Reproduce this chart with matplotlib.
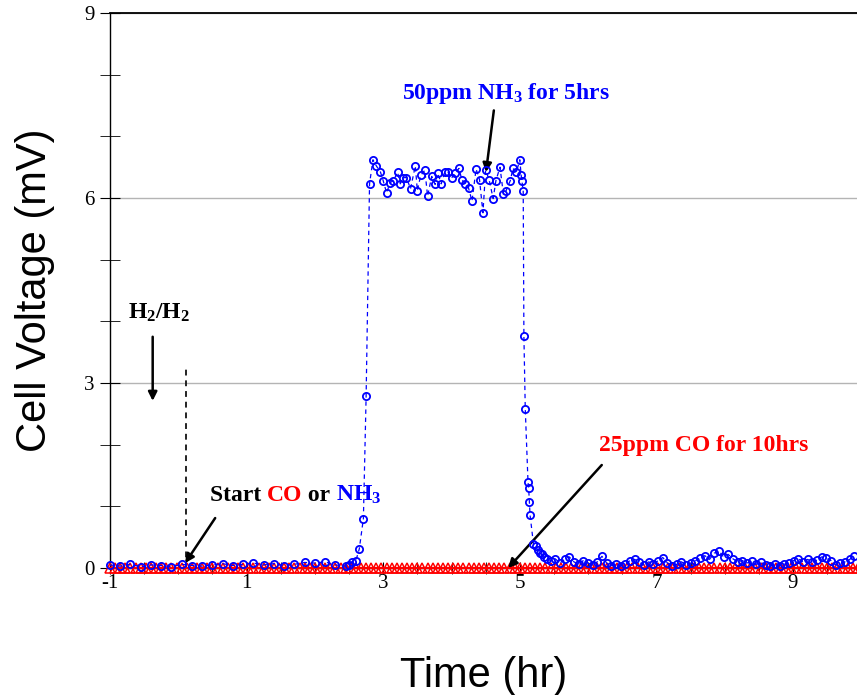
#!/usr/bin/env python3
'''
Cell voltage under 25ppm CO and 50ppm NH3 exposure
'''
import numpy as np
import matplotlib
matplotlib.use('Agg')
from matplotlib import pyplot as plt
from matplotlib.offsetbox import TextArea, HPacker, AnnotationBbox


plt.rcParams['axes.unicode_minus'] = False
plt.rcParams['mathtext.fontset'] = 'custom'
plt.rcParams['mathtext.rm'] = 'Liberation Serif:bold'
plt.rcParams['mathtext.bf'] = 'Liberation Serif:bold'
plt.rcParams['mathtext.it'] = 'Liberation Serif:bold'

# --- NH3 run (blue circles) ---
# baseline before NH3 reaches the cell, -1 .. 2.45 hr
nh3_pre_start, nh3_pre_end = -1.0, 2.45
nh3_pre_voltage = [0.05, 0.03, 0.06, 0.02, 0.05, 0.04, 0.02, 0.06, 0.04, 0.03,
                   0.05, 0.07, 0.04, 0.06, 0.08, 0.05, 0.07, 0.04, 0.06, 0.09,
                   0.08, 0.10, 0.05, 0.03]

# rise, plateau and drop
nh3_time = [2.50, 2.54, 2.60, 2.65, 2.71, 2.75,
            2.80, 2.85, 2.90, 2.96, 3.00, 3.05, 3.10, 3.15, 3.21, 3.25,
            3.29, 3.34, 3.40, 3.47, 3.50, 3.55, 3.61, 3.65, 3.71, 3.76,
            3.80, 3.85, 3.90, 3.95, 4.00, 4.05, 4.11, 4.15, 4.20, 4.25,
            4.30, 4.36, 4.41, 4.46, 4.50, 4.55, 4.61, 4.65, 4.71, 4.76,
            4.80, 4.86, 4.90, 4.95, 5.00, 5.02, 5.03, 5.05,
            5.06, 5.08, 5.12, 5.13, 5.14, 5.15, 5.20, 5.23, 5.26, 5.29,
            5.32, 5.36, 5.40]
nh3_voltage = [0.05, 0.10, 0.12, 0.31, 0.80, 2.79,
               6.23, 6.62, 6.52, 6.42, 6.28, 6.08, 6.25, 6.28, 6.42, 6.23,
               6.33, 6.33, 6.15, 6.52, 6.12, 6.37, 6.45, 6.03, 6.35, 6.22,
               6.40, 6.23, 6.42, 6.42, 6.32, 6.41, 6.48, 6.30, 6.23, 6.16,
               5.95, 6.47, 6.30, 5.76, 6.45, 6.30, 5.99, 6.28, 6.50, 6.06,
               6.12, 6.28, 6.48, 6.42, 6.62, 6.37, 6.28, 6.11,
               3.77, 2.58, 1.40, 1.29, 1.07, 0.86, 0.39, 0.35, 0.30, 0.25,
               0.22, 0.18, 0.15]

# baseline after NH3 is switched off, 5.45 .. 9.9 hr
nh3_post_start, nh3_post_end = 5.45, 9.90
nh3_post_voltage = [0.12, 0.15, 0.08, 0.14, 0.18, 0.10, 0.06, 0.12, 0.08,
                    0.05, 0.10, 0.19, 0.08, 0.04, 0.06, 0.03,
                    0.07, 0.12, 0.14, 0.09, 0.05, 0.10, 0.06,
                    0.12, 0.17, 0.08, 0.04, 0.06, 0.10, 0.05,
                    0.08, 0.12, 0.16, 0.20, 0.14, 0.24, 0.28, 0.18,
                    0.22, 0.15, 0.10, 0.12, 0.08, 0.11, 0.06,
                    0.09, 0.05, 0.03, 0.07, 0.04, 0.06, 0.08,
                    0.12, 0.15, 0.10, 0.14, 0.09, 0.13, 0.18,
                    0.16, 0.12, 0.05, 0.08, 0.10, 0.14, 0.20]

# --- CO run (red triangles): flat at zero the whole time ---
co_sample_step = 0.075  # hr
co_time = np.arange(-1.0, 10.0, co_sample_step)
co_voltage = np.zeros_like(co_time)

# vertical marker where the contaminant is switched on
start_time = 0.11
start_marker_top = 3.24

x_ticks = [-1, 1, 3, 5, 7, 9]
y_ticks = [0, 3, 6, 9]


# ---- assemble the NH3 series ----
t_nh3 = np.concatenate([
    np.linspace(nh3_pre_start, nh3_pre_end, len(nh3_pre_voltage)),
    nh3_time,
    np.linspace(nh3_post_start, nh3_post_end, len(nh3_post_voltage)),
])
v_nh3 = np.concatenate([nh3_pre_voltage, nh3_voltage, nh3_post_voltage])

fig = plt.figure(figsize=(8.57, 6.95), dpi=100)
ax = fig.add_axes([110 / 857, 1 - 568 / 695, 747 / 857, 555 / 695])

ax.set_xlim(-1, -1 + 747 / 68.3)
ax.set_ylim(0, 9)

ax.yaxis.grid(True, color='#b4b4b4', lw=1.0)
ax.set_axisbelow(True)

ax.plot(t_nh3, v_nh3, ls=(0, (3.5, 3)), color='blue', lw=0.9,
        marker='o', ms=5.2, mfc='none', mec='blue', mew=1.3, zorder=4,
        clip_on=False)
ax.plot(co_time, co_voltage, color='red', lw=1.6,
        marker='^', ms=7, mfc='none', mec='red', mew=1.1,
        clip_on=False, zorder=3)

ax.plot([start_time, start_time], [0, start_marker_top], color='#222222',
        ls=(0, (3, 2.5)), lw=1.4, zorder=2)

ax.set_xticks(x_ticks)
ax.set_yticks(y_ticks)
ax.set_xticks(np.arange(-1, 10, 0.5), minor=True)
ax.set_yticks(np.arange(0, 10, 1), minor=True)
ax.tick_params(axis='both', which='both', direction='inout', color='black',
               labelsize=15, labelfontfamily='Liberation Serif')
ax.tick_params(axis='x', which='both', length=9, pad=0)
ax.tick_params(axis='y', which='both', length=14, pad=4)

for side in ['right']:
    ax.spines[side].set_visible(False)
ax.spines['top'].set_linewidth(1.3)
ax.spines['left'].set_linewidth(1.0)
ax.spines['bottom'].set_linewidth(1.0)

ax.set_xlabel('Time (hr)', fontsize=30, family='Liberation Sans', labelpad=45)
ax.set_ylabel('Cell Voltage (mV)', fontsize=30, family='Liberation Sans',
              labelpad=21)

arrow = dict(arrowstyle='-|>', color='black', lw=1.8, mutation_scale=13,
             shrinkA=0, shrinkB=0)
label_font = dict(family='Liberation Serif', weight='bold', fontsize=17)

ax.annotate('', xy=(4.505, 6.42), xytext=(4.62, 7.42), arrowprops=arrow)
ax.text(4.80, 7.70, r'50ppm NH$_\mathrm{3}$ for 5hrs', color='blue',
        ha='center', va='center', **label_font)

ax.annotate('', xy=(-0.375, 2.71), xytext=(-0.375, 3.75), arrowprops=arrow)
ax.text(-0.28, 4.13, r'H$_\mathrm{2}$/H$_\mathrm{2}$', color='black',
        ha='center', va='center', **label_font)

ax.annotate('', xy=(4.83, 0.0), xytext=(6.20, 1.67), arrowprops=arrow,
            annotation_clip=False)
ax.text(7.69, 1.99, '25ppm CO for 10hrs', color='red',
        ha='center', va='center', **label_font)

ax.annotate('', xy=(0.10, 0.08), xytext=(0.54, 0.81), arrowprops=arrow)
parts = [('Start ', 'black'), ('CO', 'red'), (' or ', 'black'),
         (r'NH$_\mathrm{3}$', 'blue')]
pieces = [TextArea(s, textprops=dict(color=c, **label_font)) for s, c in parts]
row = HPacker(children=pieces, align='baseline', pad=0, sep=0)
ax.add_artist(AnnotationBbox(row, (0.464, 1.18), frameon=False,
                             box_alignment=(0, 0.5), pad=0))

fig.savefig('out.png', dpi=100)
